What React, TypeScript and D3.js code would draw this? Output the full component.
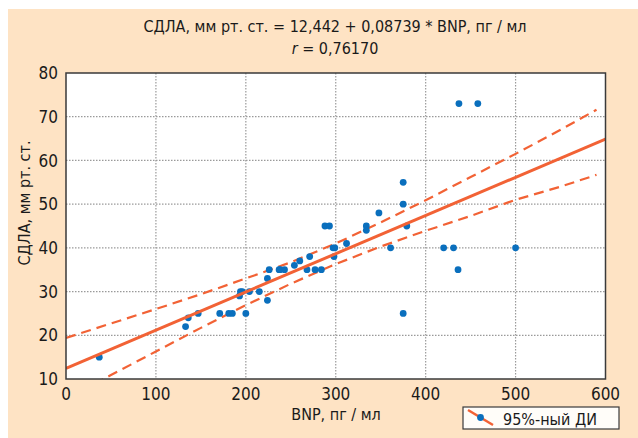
import * as d3 from "d3";

// BNP, пг/мл
const bnp = [37, 133, 136, 147, 171, 181, 185, 200, 193, 194, 196, 204, 215, 224, 224, 226, 237, 238, 243, 254, 260, 268, 271, 277, 284, 288, 293, 297, 299, 298, 312, 334, 334, 348, 361, 375, 375, 375, 379, 420, 431, 436, 437, 458, 500];
// СДЛА, мм рт. ст.
const sdla = [15, 22, 24, 25, 25, 25, 25, 25, 29, 30, 30, 30, 30, 28, 33, 35, 35, 35, 35, 36, 37, 35, 38, 35, 35, 45, 45, 40, 40, 38, 41, 45, 44, 48, 40, 55, 50, 25, 45, 40, 40, 35, 73, 73, 40];

// regression line endpoints and 95% CI band
const fitX = [0, 600];
const fitY = [12.44, 64.88];
const ciX = [0, 50, 100, 150, 200, 250, 300, 350, 400, 450, 500, 550, 590];
const ciUpper = [19.4, 22.7, 26.0, 29.4, 33.0, 36.7, 41.0, 45.8, 50.9, 56.2, 61.5, 67.0, 71.6];
const ciLower = [5.4, 10.9, 16.3, 21.7, 26.9, 31.8, 36.3, 40.3, 43.9, 47.3, 51.0, 54.0, 56.7];

const xTicks = [0, 100, 200, 300, 400, 500, 600];
const yTicks = [10, 20, 30, 40, 50, 60, 70, 80];

const W = 638;
const H = 438;
const left = 66, right = 605.5, top = 73, bottom = 379;
const font = "'Liberation Sans Narrow', 'DejaVu Sans Condensed', 'Arial Narrow', sans-serif";
const orange = "#f26235";
const blue = "#0a6fbd";

export default function App() {
  const x = d3.scaleLinear().domain([0, 600]).range([left, right]);
  const y = d3.scaleLinear().domain([10, 80]).range([bottom, top]);

  const line = d3.line<number>().x((_, i) => x(ciX[i])).y(d => y(d));
  const fitLine = d3.line<number>().x((_, i) => x(fitX[i])).y(d => y(d));

  return (
    <svg width={W} height={H} style={{ position: "absolute", left: 0, top: 0 }} fontFamily={font}>
      <rect x={8} y={9} width={W - 8} height={H - 9} fill="#fee3c4" />
      <defs>
        <clipPath id="plot">
          <rect x={left} y={top} width={right - left} height={bottom - top} />
        </clipPath>
      </defs>
      <rect x={left} y={top} width={right - left} height={bottom - top} fill="#ffffff" />

      {/* grid */}
      {xTicks.slice(1, -1).map(t => (
        <line key={"gx" + t} x1={x(t)} x2={x(t)} y1={top} y2={bottom} stroke="#9a9a9a" strokeWidth={1.2} strokeDasharray="1.5,1.5" />
      ))}
      {yTicks.slice(1, -1).map(t => (
        <line key={"gy" + t} x1={left} x2={right} y1={y(t)} y2={y(t)} stroke="#9a9a9a" strokeWidth={1.2} strokeDasharray="1.5,1.5" />
      ))}

      <g clipPath="url(#plot)">
        <path d={line(ciUpper) ?? ""} fill="none" stroke={orange} strokeWidth={2.2} strokeDasharray="10,6" />
        <path d={line(ciLower) ?? ""} fill="none" stroke={orange} strokeWidth={2.2} strokeDasharray="10,6" />
        {bnp.map((b, i) => (
          <circle key={i} cx={x(b)} cy={y(sdla[i])} r={3.4} fill={blue} />
        ))}
        <path d={fitLine(fitY) ?? ""} fill="none" stroke={orange} strokeWidth={3} />
      </g>

      <rect x={left} y={top} width={right - left} height={bottom - top} fill="none" stroke="#3a3a3a" strokeWidth={1.5} />

      {/* tick labels */}
      {yTicks.map(t => (
        <text key={"ly" + t} x={58} y={y(t)} dy="0.36em" textAnchor="end" fontSize={17} fill="#1a1a1a">{t}</text>
      ))}
      {xTicks.map(t => (
        <text key={"lx" + t} x={x(t)} y={400} textAnchor="middle" fontSize={17} fill="#1a1a1a">{t}</text>
      ))}

      {/* titles */}
      <text x={335} y={32} textAnchor="middle" fontSize={16} fill="#1a1a1a">СДЛА, мм рт. ст. = 12,442 + 0,08739 * BNP, пг / мл</text>
      <text x={335} y={54} textAnchor="middle" fontSize={16} fill="#1a1a1a"><tspan fontStyle="italic">r</tspan> = 0,76170</text>
      <text x={336} y={420} textAnchor="middle" fontSize={16} fill="#1a1a1a">BNP, пг / мл</text>
      <text transform="translate(30,203) rotate(-90)" textAnchor="middle" fontSize={16} fill="#1a1a1a">СДЛА, мм рт. ст.</text>

      {/* legend */}
      <rect x={463} y={407} width={156} height={22} fill="#fffdf9" stroke="#3a3a3a" strokeWidth={1.2} />
      <line x1={468} y1={410} x2={493} y2={425} stroke={orange} strokeWidth={2.5} />
      <circle cx={480.5} cy={417.5} r={3.4} fill={blue} />
      <text x={503} y={424.5} fontSize={16} fill="#1a1a1a">95%-ный ДИ</text>
    </svg>
  );
}
